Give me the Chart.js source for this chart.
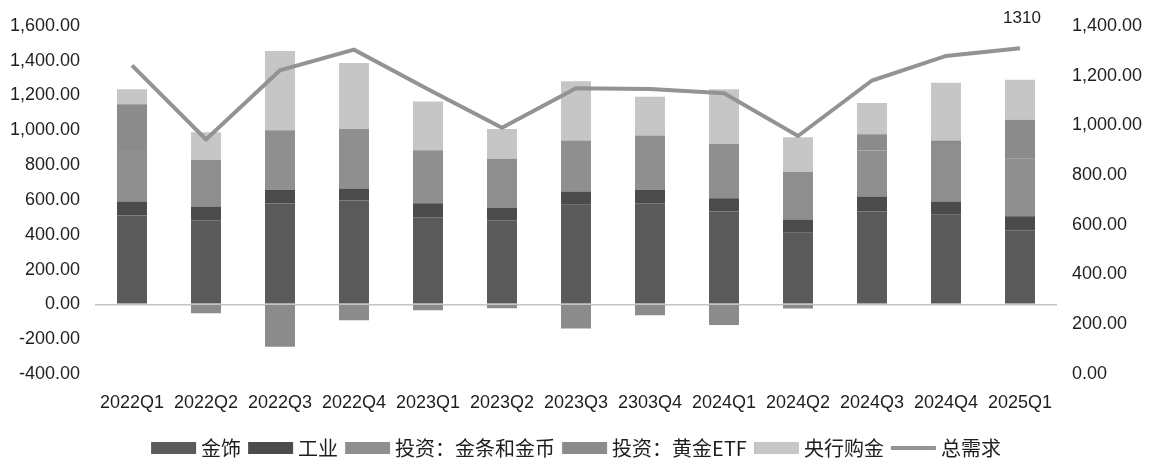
<!DOCTYPE html>
<html>
<head>
<meta charset="utf-8">
<script src="https://cdn.jsdelivr.net/npm/chart.js@4/dist/chart.umd.min.js"></script>
<style>
  html, body { margin: 0; padding: 0; background: #fff; }
  #wrap { width: 1149px; height: 468px; }
</style>
</head>
<body>
<div id="wrap"><canvas id="goldChart"></canvas></div>
<script>
'use strict';

// quarters on the x axis (the 2303Q4 typo is in the source chart)
var quarters = ['2022Q1', '2022Q2', '2022Q3', '2022Q4', '2023Q1', '2023Q2', '2023Q3',
    '2303Q4', '2024Q1', '2024Q2', '2024Q3', '2024Q4', '2025Q1'];

// stacked demand components (tonnes)
var jewellery   = [511, 483, 580, 597, 500, 483, 572, 581, 534, 411, 534, 515, 426];
var industry    = [80, 79, 79, 68, 81, 70, 76, 76, 76, 76, 85, 76, 80];
var barCoin     = [295, 268, 341, 342, 304, 284, 293, 313, 312, 274, 265, 330, 331];
var goldEtf     = [263, -51, -244, -91, -34, -23, -138, -63, -119, -24, 93, 20, 224];
var centralBank = [86, 159, 455, 379, 280, 170, 341, 223, 313, 199, 180, 332, 229];

// total demand line, right axis
var totalDemand = [1241, 943, 1221, 1304, 1145, 990, 1149, 1146, 1129, 957, 1180, 1279, 1310];

var leftTicks = { min: -400, max: 1600, step: 200 };
var rightTicks = { min: 0, max: 1400, step: 200 };

var axisFont = { family: '"Liberation Sans", Arial, sans-serif', size: 18 };
var textColor = '#1e1e1e';

function fmt2(v) {
    return Number(v).toLocaleString('en-US', { minimumFractionDigits: 2, maximumFractionDigits: 2 });
}

function barSet(label, data, color) {
    return {
        type: 'bar',
        label: label,
        data: data,
        backgroundColor: color,
        borderWidth: 0,
        yAxisID: 'y',
        stack: 'demand',
        order: 1,
        barPercentage: 0.405,
        categoryPercentage: 1.0
    };
}

// legend drawn by hand so the swatch sizes and gaps match the original
var legendPlugin = {
    id: 'handLegend',
    afterDraw: function(chart) {
        var ctx = chart.ctx;
        var sets = chart.data.datasets;
        var font = '20px "Noto Sans CJK SC", sans-serif';
        var sw = 45, gapText = 5, gapItem = 7, y = 448;
        ctx.save();
        ctx.font = font;
        var total = 0;
        sets.forEach(function(ds, i) {
            total += sw + gapText + ctx.measureText(ds.label).width;
            if (i < sets.length - 1) total += gapItem;
        });
        var x = (chart.chartArea.left + chart.chartArea.right) / 2 - total / 2;
        sets.forEach(function(ds) {
            if (ds.type === 'line') {
                ctx.strokeStyle = ds.borderColor;
                ctx.lineWidth = 4;
                ctx.beginPath();
                ctx.moveTo(x, y);
                ctx.lineTo(x + sw, y);
                ctx.stroke();
            } else {
                ctx.fillStyle = ds.backgroundColor;
                ctx.fillRect(x, y - 6, sw, 12);
            }
            x += sw + gapText;
            ctx.fillStyle = textColor;
            ctx.textBaseline = 'middle';
            ctx.textAlign = 'left';
            ctx.fillText(ds.label, x, y);
            x += ctx.measureText(ds.label).width + gapItem;
        });
        ctx.restore();
    }
};

// "1310" label above the last point of the line
var lastLabelPlugin = {
    id: 'lastLabel',
    afterDatasetsDraw: function(chart) {
        var idx = chart.data.datasets.length - 1;
        var meta = chart.getDatasetMeta(idx);
        var n = totalDemand.length - 1;
        var pt = meta.data[n];
        if (!pt) return;
        var ctx = chart.ctx;
        ctx.save();
        ctx.font = '17px "Liberation Sans", Arial, sans-serif';
        ctx.fillStyle = textColor;
        ctx.textAlign = 'center';
        ctx.textBaseline = 'middle';
        ctx.fillText(String(totalDemand[n]), pt.x + 2, pt.y - 30);
        ctx.restore();
    }
};

var ctx = document.getElementById('goldChart');
var goldChart = new Chart(ctx, {
    data: {
        labels: quarters,
        datasets: [
            barSet('金饰', jewellery, '#5a5a5a'),
            barSet('工业', industry, '#4b4b4b'),
            barSet('投资：金条和金币', barCoin, '#8f8f8f'),
            barSet('投资：黄金ETF', goldEtf, '#8b8b8b'),
            barSet('央行购金', centralBank, '#c6c6c6'),
            {
                type: 'line',
                label: '总需求',
                data: totalDemand,
                borderColor: '#939393',
                backgroundColor: '#939393',
                borderWidth: 4,
                pointRadius: 0,
                tension: 0,
                yAxisID: 'y1',
                order: 0
            }
        ]
    },
    plugins: [legendPlugin, lastLabelPlugin],
    options: {
        responsive: true,
        maintainAspectRatio: false,
        animation: false,
        layout: { padding: { top: 22, bottom: 0, left: 0, right: 0 } },
        plugins: {
            legend: { display: false },
            tooltip: { enabled: false }
        },
        scales: {
            x: {
                stacked: true,
                grid: { display: false },
                border: { display: false },
                ticks: { font: axisFont, color: textColor, padding: 10, maxRotation: 0, autoSkip: false },
                afterFit: function(scale) { scale.height = 94; }
            },
            y: {
                position: 'left',
                stacked: true,
                min: leftTicks.min,
                max: leftTicks.max,
                grid: {
                    drawTicks: false,
                    lineWidth: 1.5,
                    color: function(c) { return c.tick && c.tick.value === 0 ? '#c4c4c4' : 'rgba(0,0,0,0)'; }
                },
                border: { display: false },
                ticks: {
                    stepSize: leftTicks.step,
                    font: axisFont,
                    color: textColor,
                    padding: 15,
                    callback: function(v) { return fmt2(v); }
                },
                afterFit: function(scale) { scale.width = 95; }
            },
            y1: {
                position: 'right',
                min: rightTicks.min,
                max: rightTicks.max,
                grid: { display: false, drawTicks: false },
                border: { display: false },
                ticks: {
                    stepSize: rightTicks.step,
                    font: axisFont,
                    color: textColor,
                    padding: 15,
                    callback: function(v) { return fmt2(v); }
                },
                afterFit: function(scale) { scale.width = 92; }
            }
        }
    }
});
</script>
</body>
</html>
